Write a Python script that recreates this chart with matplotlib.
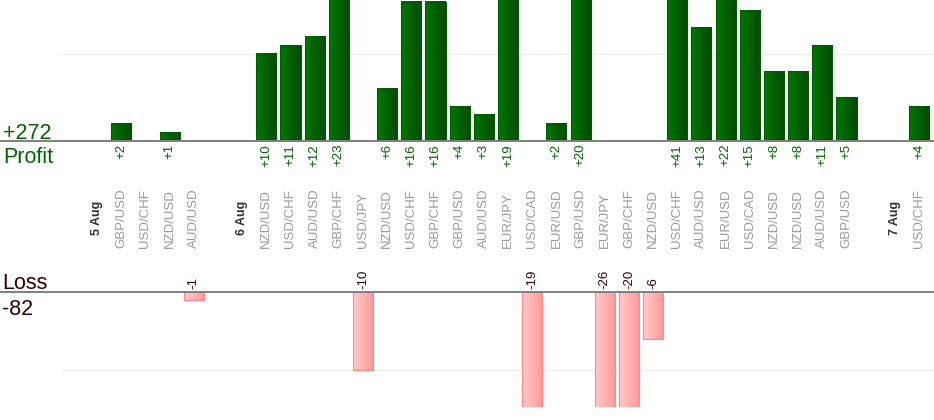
import matplotlib.pyplot as plt
import matplotlib.transforms as mtransforms
from matplotlib.colors import LinearSegmentedColormap
import numpy as np

plt.rcParams['font.family'] = ['Liberation Sans', 'DejaVu Sans']

# Trades per day: pair and pips won (+) or lost (-)
day_labels = ["5 Aug", "6 Aug", "7 Aug"]
day_pairs = [
    ["GBP/USD", "USD/CHF", "NZD/USD", "AUD/USD"],
    ["NZD/USD", "USD/CHF", "AUD/USD", "GBP/CHF", "USD/JPY", "NZD/USD",
     "USD/CHF", "GBP/CHF", "GBP/USD", "AUD/USD", "EUR/JPY", "USD/CAD",
     "EUR/USD", "GBP/USD", "EUR/JPY", "GBP/CHF", "NZD/USD", "USD/CHF",
     "AUD/USD", "EUR/USD", "USD/CAD", "NZD/USD", "NZD/USD", "AUD/USD",
     "GBP/USD"],
    ["USD/CHF"],
]
day_pips = [
    [2, 0, 1, -1],
    [10, 11, 12, 23, -10, 6, 16, 16, 4, 3, 19, -19, 2, 20, -26, -20, -6,
     41, 13, 22, 15, 8, 8, 11, 5],
    [4],
]

# Build the slot list: an empty slot, the date, then the trades of that day
labels, kinds, values = [], [], []
for day, pairs, pips in zip(day_labels, day_pairs, day_pips):
    labels += ["", day] + pairs
    kinds += ["gap", "day"] + ["trade"] * len(pairs)
    values += [0, 0] + pips
x = np.arange(len(labels))
values = np.array(values)
profit = np.where(values > 0, values, 0)
loss = np.where(values < 0, values, 0)

W, H = 934, 420
fig = plt.figure(figsize=(W / 100, H / 100), dpi=100)
left_px = 63
ax_top = fig.add_axes([left_px / W, 1 - 141 / H, (W - left_px) / W, 141 / H])
ax_bot = fig.add_axes([left_px / W, 1 - 407 / H, (W - left_px) / W, 115 / H])

top_lim = (0, 16.2)
bot_lim = (-14.75, 0)
xlim = (-0.41, 35.62)


def gradient_bars(ax, xs, heights, c_left, c_right, edge, ylim):
    bars = ax.bar(xs, heights, width=0.83, facecolor='none',
                  edgecolor=edge, linewidth=0.8, zorder=3)
    cmap = LinearSegmentedColormap.from_list('grad', [c_left, c_right])
    grad = np.linspace(0, 1, 64).reshape(1, -1)
    for b in bars:
        x0, w, h = b.get_x(), b.get_width(), b.get_height()
        y0, y1 = sorted([0, h])
        y0, y1 = max(y0, ylim[0]), min(y1, ylim[1])
        ax.imshow(grad, cmap=cmap, extent=[x0, x0 + w, y0, y1],
                  aspect='auto', interpolation='bilinear', zorder=2)


pos = profit > 0
neg = loss < 0
gradient_bars(ax_top, x[pos], profit[pos], '#007800', '#004a00', '#005a00', top_lim)
gradient_bars(ax_bot, x[neg], loss[neg], '#ffcaca', '#ff9898', '#ff8888', bot_lim)

for ax, lim, grid_y in [(ax_top, top_lim, 10), (ax_bot, bot_lim, -10)]:
    ax.set_xlim(*xlim)
    ax.set_ylim(*lim)
    ax.axis('off')
    ax.axhline(grid_y, color='#ececec', linewidth=1, zorder=1)
    ax.axhline(0, xmin=-left_px / (W - left_px), xmax=1, color='#808080',
               linewidth=1.4, zorder=4, clip_on=False)

# Value labels and category labels
xf = mtransforms.blended_transform_factory(ax_top.transData, fig.transFigure)
for i in x:
    if profit[i] > 0:
        fig.text(i, 1 - 144 / H, f"+{profit[i]}", transform=xf, rotation=90,
                 ha='center', va='top', fontsize=9.5, color='#006400')
    if loss[i] < 0:
        fig.text(i, 1 - 289 / H, f"{loss[i]}", transform=xf, rotation=90,
                 ha='center', va='bottom', fontsize=9.5, color='#330000')
    if kinds[i] == "trade":
        fig.text(i, 1 - 248 / H, labels[i], transform=xf, rotation=90,
                 ha='center', va='bottom', fontsize=9.5, color='#9a9a9a')
    elif kinds[i] == "day":
        fig.text(i, 1 - 235 / H, labels[i], transform=xf, rotation=90,
                 ha='center', va='bottom', fontsize=9, color='#333333',
                 fontweight='bold')

# Totals on the left
fig.text(3 / W, 1 - 139 / H, f"+{profit.sum()}", fontsize=15.5,
         color='#006400', va='baseline')
fig.text(3 / W, 1 - 163 / H, "Profit", fontsize=15.5, color='#006400',
         va='baseline')
fig.text(2 / W, 1 - 289 / H, "Loss", fontsize=15.5, color='#330000',
         va='baseline')
fig.text(2 / W, 1 - 315 / H, f"{loss.sum()}", fontsize=15.5, color='#330000',
         va='baseline')

plt.savefig("out.png", dpi=100)
